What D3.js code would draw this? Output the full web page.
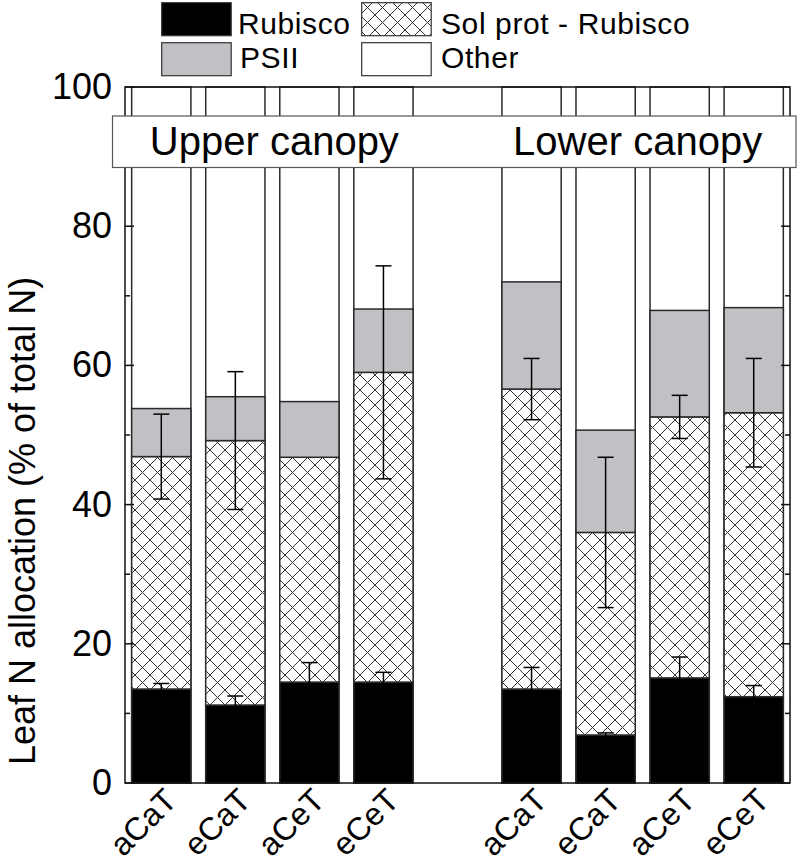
<!DOCTYPE html>
<html>
<head>
<meta charset="utf-8">
<script src="https://cdn.jsdelivr.net/npm/d3@7"></script>
<style>
  html, body { margin: 0; padding: 0; background: #fff; }
  svg { display: block; font-family: "Liberation Sans", Arial, Helvetica, sans-serif; }
</style>
</head>
<body>
<svg id="chart" width="800" height="867"></svg>
<script>
// ---- data ----
const groups = ["Upper canopy", "Lower canopy"];
const categories = ["aCaT", "eCaT", "aCeT", "eCeT"];
// order: upper aCaT, eCaT, aCeT, eCeT, lower aCaT, eCaT, aCeT, eCeT
const rubisco      = [13.5, 11.2, 14.5, 14.5, 13.5, 6.9, 15.1, 12.4];
const solMinusRub  = [33.4, 38.0, 32.3, 44.5, 43.1, 29.1, 37.5, 40.8];
const psii         = [6.9, 6.3, 8.0, 9.1, 15.4, 14.7, 15.3, 15.1];
const rubiscoErr   = [0.8, 1.3, 2.8, 1.4, 3.1, 0.3, 3.0, 1.6];
const solProtErr   = [6.1, 9.9, null, 15.3, 4.4, 10.8, 3.1, 7.8];
const yTicks = [0, 20, 40, 60, 80, 100];
const legendItems = ["Rubisco", "Sol prot - Rubisco", "PSII", "Other"];

// ---- layout ----
const svg = d3.select("#chart");
const pLeft = 125, pRight = 790, pTop = 87, pBottom = 783;

const slots = [];
groups.forEach((g, gi) => {
  categories.forEach(c => slots.push(g + "|" + c));
  if (gi < groups.length - 1) slots.push("gap" + gi);
});
const barSlots = slots.filter(s => !s.startsWith("gap"));

const x = d3.scaleBand().domain(slots).range([pLeft, pRight]).paddingInner(0.2).paddingOuter(0.09);
const y = d3.scaleLinear().domain([0, 100]).range([pBottom, pTop]);

// hatch pattern
const defs = svg.append("defs");
const pat = defs.append("pattern").attr("id", "hatch").attr("patternUnits", "userSpaceOnUse")
  .attr("width", 15).attr("height", 15);
pat.append("rect").attr("width", 15).attr("height", 15).attr("fill", "#fff");
pat.append("path").attr("d", "M0,0 L15,15 M15,0 L0,15")
  .attr("stroke", "#333").attr("stroke-width", 1);

const fills = { "Rubisco": "#000", "Sol prot - Rubisco": "url(#hatch)", "PSII": "#c0c1c4", "Other": "#fff" };
const outline = "#2a2a2a";

// ---- bars ----
const barsG = svg.append("g");
barSlots.forEach((s, i) => {
  const segs = [
    { key: "Other", y0: 0, y1: 100 },
    { key: "Rubisco", y0: 0, y1: rubisco[i] },
    { key: "Sol prot - Rubisco", y0: rubisco[i], y1: rubisco[i] + solMinusRub[i] },
    { key: "PSII", y0: rubisco[i] + solMinusRub[i], y1: rubisco[i] + solMinusRub[i] + psii[i] }
  ];
  barsG.selectAll(null).data(segs).enter().append("rect")
    .attr("x", x(s)).attr("width", x.bandwidth())
    .attr("y", d => y(d.y1)).attr("height", d => y(d.y0) - y(d.y1))
    .attr("fill", d => fills[d.key]).attr("stroke", outline).attr("stroke-width", 1.5);
});

// ---- error bars ----
const errG = svg.append("g").attr("stroke", "#000").attr("stroke-width", 1.5);
function errorBar(cx, v, e) {
  if (e == null) return;
  const capW = 8;
  errG.append("line").attr("x1", cx).attr("x2", cx).attr("y1", y(v - e)).attr("y2", y(v + e));
  errG.append("line").attr("x1", cx - capW).attr("x2", cx + capW).attr("y1", y(v + e)).attr("y2", y(v + e));
  errG.append("line").attr("x1", cx - capW).attr("x2", cx + capW).attr("y1", y(v - e)).attr("y2", y(v - e));
}
barSlots.forEach((s, i) => {
  const cx = x(s) + x.bandwidth() / 2;
  errorBar(cx, rubisco[i], rubiscoErr[i]);
  errorBar(cx, rubisco[i] + solMinusRub[i], solProtErr[i]);
});

// ---- frame and axes ----
svg.append("rect").attr("x", pLeft).attr("y", pTop).attr("width", pRight - pLeft).attr("height", pBottom - pTop)
  .attr("fill", "none").attr("stroke", "#111").attr("stroke-width", 1.5);

const minor = d3.range(0, 101, 10);
const tickG = svg.append("g").attr("stroke", "#111").attr("stroke-width", 1.5);
minor.forEach(v => {
  const len = v % 20 === 0 ? 9 : 5;
  tickG.append("line").attr("x1", pLeft).attr("x2", pLeft + len).attr("y1", y(v)).attr("y2", y(v));
  tickG.append("line").attr("x1", pRight).attr("x2", pRight - len).attr("y1", y(v)).attr("y2", y(v));
});

const axisLabels = svg.append("g").attr("transform", `translate(${pLeft},0)`)
  .call(d3.axisLeft(y).tickValues(yTicks).tickSize(0).tickPadding(13));
axisLabels.select(".domain").remove();
axisLabels.selectAll("text").attr("font-size", 36).attr("fill", "#000")
  .attr("font-family", "Liberation Sans, Arial, sans-serif");

// y title
svg.append("text")
  .attr("transform", `translate(35, ${(pTop + pBottom) / 2 + 86}) rotate(-90)`)
  .attr("text-anchor", "middle").attr("font-size", 36).attr("fill", "#000")
  .text("Leaf N allocation (% of total N)");

// category labels
barSlots.forEach(s => {
  const cx = x(s) + x.bandwidth() / 2;
  const lab = s.split("|")[1];
  svg.append("text")
    .attr("transform", `translate(${cx + 1}, ${pBottom + 3}) rotate(-45)`)
    .attr("text-anchor", "end").attr("font-size", 32).attr("dy", "0.72em").attr("fill", "#000")
    .text(lab);
});

// group label box
svg.append("rect").attr("x", 112.5).attr("y", 116).attr("width", 796 - 112.5).attr("height", 51.5)
  .attr("fill", "#fff").attr("stroke", "#555").attr("stroke-width", 1.2);
groups.forEach((g, gi) => {
  const first = x(g + "|" + categories[0]);
  const last = x(g + "|" + categories[categories.length - 1]) + x.bandwidth();
  svg.append("text").attr("x", (first + last) / 2 - (gi ? 5 : -2)).attr("y", 155)
    .attr("text-anchor", "middle").attr("font-size", 40).attr("fill", "#000").text(g);
});

// legend
const legPos = [
  { sx: 161.7, sy: 2.7, tx: 238, ty: 33.5 },
  { sx: 361.7, sy: 2.7, tx: 441, ty: 33.5 },
  { sx: 161.7, sy: 42.7, tx: 240, ty: 67.7 },
  { sx: 361.7, sy: 42.7, tx: 441, ty: 67.7 }
];
const legG = svg.append("g");
legendItems.forEach((k, i) => {
  const p = legPos[i];
  legG.append("rect").attr("x", p.sx).attr("y", p.sy).attr("width", 69.5).attr("height", 33)
    .attr("fill", fills[k]).attr("stroke", "#333").attr("stroke-width", 1.2);
  legG.append("text").attr("x", p.tx).attr("y", p.ty).attr("font-size", 30)
    .attr("letter-spacing", 0.6).attr("fill", "#000").text(k);
});
</script>
</body>
</html>
